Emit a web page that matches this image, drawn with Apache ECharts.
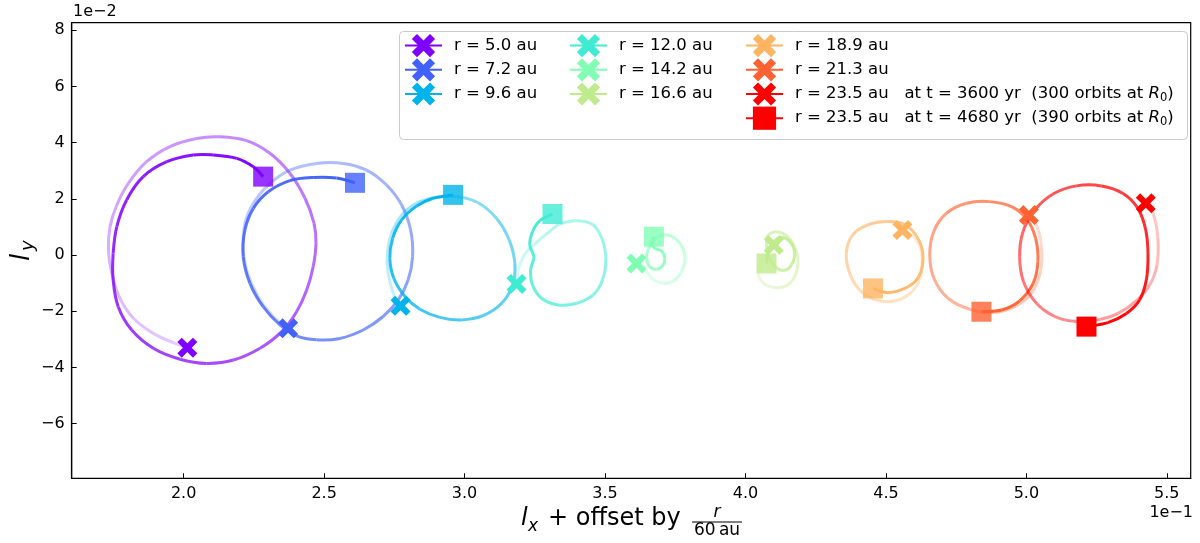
<!DOCTYPE html>
<html>
<head>
<meta charset="utf-8">
<script src="https://cdn.jsdelivr.net/npm/echarts@6/dist/echarts.min.js"></script>
<style>
  html, body { margin: 0; padding: 0; background: #fff; }
  #chart { width: 1200px; height: 543px; }
</style>
</head>
<body>
<div id="chart"></div>
<script>
// values as shown on the axes: x in units of 1e-1, y in units of 1e-2
const radii = [5.0, 7.2, 9.6, 12.0, 14.2, 16.6, 18.9, 21.3, 23.5];
const times = [3600, 4680];   // yr, first point (X) and last point (square)
const orbits = [300, 390];    // orbits at R0
const xTicks = [2.0, 2.5, 3.0, 3.5, 4.0, 4.5, 5.0, 5.5];
const yTicks = [-6, -4, -2, 0, 2, 4, 6, 8];

// trajectories, from t = 3600 yr (first point) to t = 4680 yr (last point)
const traj_5_0 = [[2.013,-3.30],[1.963,-3.12],[1.892,-2.79],[1.821,-2.25],[1.773,-1.54],[1.744,-0.65],[1.732,0.18],[1.738,1.01],[1.762,1.78],[1.803,2.55],[1.868,3.32],[1.951,3.86],[2.046,4.15],[2.129,4.21],[2.224,4.07],[2.307,3.62],[2.378,2.91],[2.432,2.02],[2.464,1.13],[2.471,0.42],[2.461,-0.42],[2.438,-1.25],[2.402,-2.02],[2.349,-2.73],[2.272,-3.32],[2.177,-3.74],[2.082,-3.86],[1.987,-3.71],[1.892,-3.32],[1.815,-2.67],[1.767,-1.84],[1.749,-0.89],[1.749,0.06],[1.762,1.01],[1.797,1.96],[1.856,2.79],[1.940,3.32],[2.034,3.56],[2.105,3.56],[2.189,3.44],[2.248,3.14],[2.283,2.79]];
const traj_7_2 = [[2.372,-2.61],[2.319,-2.19],[2.265,-1.48],[2.224,-0.53],[2.212,0.30],[2.218,1.13],[2.248,1.84],[2.301,2.49],[2.378,3.02],[2.473,3.26],[2.568,3.26],[2.651,3.02],[2.722,2.49],[2.776,1.78],[2.808,0.89],[2.815,-0.06],[2.799,-0.89],[2.764,-1.60],[2.710,-2.19],[2.639,-2.67],[2.556,-2.97],[2.473,-3.02],[2.402,-2.88],[2.343,-2.49],[2.283,-1.84],[2.236,-1.01],[2.212,-0.06],[2.218,0.89],[2.248,1.66],[2.301,2.25],[2.378,2.65],[2.461,2.76],[2.544,2.74],[2.610,2.57]];
const traj_9_6 = [[2.772,-1.81],[2.746,-1.36],[2.728,-0.65],[2.725,0.06],[2.740,0.77],[2.776,1.42],[2.829,1.84],[2.894,2.05],[2.971,2.08],[3.048,1.86],[3.114,1.30],[3.159,0.53],[3.179,-0.30],[3.171,-1.07],[3.132,-1.72],[3.066,-2.16],[2.989,-2.31],[2.912,-2.22],[2.841,-1.93],[2.788,-1.48],[2.748,-0.83],[2.734,-0.12],[2.744,0.59],[2.776,1.25],[2.829,1.74],[2.888,2.02],[2.959,2.14]];
const traj_12_0 = [[3.185,-1.03],[3.191,-0.53],[3.203,-0.18],[3.221,0.12],[3.250,0.39],[3.292,0.75],[3.339,1.10],[3.399,1.22],[3.458,1.07],[3.491,0.53],[3.503,-0.18],[3.491,-0.89],[3.458,-1.42],[3.399,-1.72],[3.333,-1.78],[3.274,-1.54],[3.242,-1.07],[3.235,-0.53],[3.247,-0.08],[3.232,0.36],[3.242,0.83],[3.268,1.22],[3.313,1.46]];
const traj_14_2 = [[3.612,-0.30],[3.642,-0.53],[3.666,-0.83],[3.707,-1.01],[3.748,-0.89],[3.778,-0.47],[3.784,0.00],[3.766,0.42],[3.731,0.69],[3.695,0.69],[3.671,0.47],[3.653,0.18],[3.648,-0.12],[3.659,-0.42],[3.683,-0.51],[3.705,-0.38],[3.713,-0.12],[3.701,0.14],[3.677,0.24],[3.666,0.42],[3.674,0.65]];
const traj_16_6 = [[4.101,0.36],[4.080,0.12],[4.057,-0.24],[4.045,-0.65],[4.063,-0.99],[4.104,-1.16],[4.146,-1.09],[4.175,-0.77],[4.187,-0.24],[4.175,0.30],[4.146,0.69],[4.111,0.83],[4.080,0.69],[4.075,0.36],[4.083,-0.06],[4.106,-0.42],[4.138,-0.55],[4.165,-0.33],[4.175,0.10],[4.156,0.50],[4.127,0.62],[4.101,0.47],[4.081,0.12],[4.075,-0.30]];
const traj_18_9 = [[4.559,0.89],[4.599,0.65],[4.627,0.06],[4.623,-0.77],[4.589,-1.34],[4.531,-1.64],[4.466,-1.60],[4.407,-1.25],[4.371,-0.65],[4.359,0.06],[4.381,0.71],[4.436,1.07],[4.507,1.19],[4.570,1.07],[4.614,0.59],[4.632,-0.04],[4.618,-0.75],[4.575,-1.15],[4.507,-1.34],[4.454,-1.19]];
const traj_21_3 = [[5.009,1.42],[5.038,1.01],[5.054,0.24],[5.050,-0.59],[5.018,-1.36],[4.958,-1.84],[4.881,-2.05],[4.798,-1.93],[4.721,-1.54],[4.671,-0.83],[4.656,0.00],[4.670,0.83],[4.715,1.48],[4.787,1.84],[4.869,1.90],[4.947,1.72],[5.002,1.27],[5.033,0.59],[5.041,-0.24],[5.024,-1.01],[4.976,-1.63],[4.911,-1.96],[4.840,-2.02]];
const traj_23_5 = [[5.425,1.84],[5.453,1.42],[5.468,0.59],[5.465,-0.36],[5.439,-1.07],[5.391,-1.63],[5.326,-2.08],[5.255,-2.31],[5.178,-2.37],[5.101,-2.19],[5.036,-1.72],[4.990,-0.95],[4.976,-0.06],[4.988,0.83],[5.030,1.60],[5.095,2.17],[5.178,2.46],[5.267,2.46],[5.344,2.19],[5.397,1.66],[5.425,0.89],[5.433,0.00],[5.427,-0.89],[5.403,-1.60],[5.356,-2.08],[5.290,-2.41],[5.214,-2.55]];

const trajectories = [traj_5_0, traj_7_2, traj_9_6, traj_12_0, traj_14_2, traj_16_6, traj_18_9, traj_21_3, traj_23_5];
// matplotlib 'rainbow' sampled at 9 steps
const colors = ['#8000ff', '#4061fa', '#00b4eb', '#40ebd4', '#80ffb4', '#bfeb8d', '#ffb462', '#ff6232', '#ff0000'];

const FONT = 'DejaVu Sans';
const xSymbol = 'path://M2.2 0L5 2.8L7.8 0L10 2.2L7.2 5L10 7.8L7.8 10L5 7.2L2.2 10L0 7.8L2.8 5L0 2.2Z';

function rgba(hex, a) {
  const n = parseInt(hex.slice(1), 16);
  return 'rgba(' + (n >> 16) + ',' + ((n >> 8) & 255) + ',' + (n & 255) + ',' + a.toFixed(3) + ')';
}

// one curve piece per point, fading in from the start
function trajSeries(pts, color) {
  const n = pts.length;
  return {
    type: 'custom',
    coordinateSystem: 'cartesian2d',
    silent: true,
    z: 2,
    data: pts,
    encode: { x: 0, y: 1 },
    renderItem: function (params, api) {
      const i = params.dataIndex;
      if (i >= n - 1) return null;
      const c = k => api.coord(pts[Math.max(0, Math.min(n - 1, k))]);
      const p0 = c(i - 1), p1 = c(i), p2 = c(i + 1), p3 = c(i + 2);
      const a = 0.2 + 0.8 * i / (n - 2);
      return {
        type: 'bezierCurve',
        shape: {
          x1: p1[0], y1: p1[1], x2: p2[0], y2: p2[1],
          cpx1: p1[0] + (p2[0] - p0[0]) / 6, cpy1: p1[1] + (p2[1] - p0[1]) / 6,
          cpx2: p2[0] - (p3[0] - p1[0]) / 6, cpy2: p2[1] - (p3[1] - p1[1]) / 6
        },
        style: { stroke: rgba(color, a), lineWidth: 3, fill: null }
      };
    }
  };
}

const names = radii.map(r => 'r = ' + r.toFixed(1) + ' au');
const last = radii.length - 1;
names[last] += '   at t = ' + times[0] + ' yr  (' + orbits[0] + ' orbits at R0)';
const endName = 'r = ' + radii[last].toFixed(1) + ' au   at t = ' + times[1] + ' yr  (' + orbits[1] + ' orbits at R0)';

const series = [];
trajectories.forEach((pts, k) => series.push(trajSeries(pts, colors[k])));
trajectories.forEach((pts, k) => {
  series.push({
    type: 'line', name: names[k], data: [pts[0]],
    symbol: xSymbol, symbolSize: 20, silent: true, z: 5,
    itemStyle: { color: colors[k] }, lineStyle: { color: colors[k], width: 2 }
  });
  series.push({
    type: k === last ? 'line' : 'scatter',
    name: k === last ? endName : names[k] + ' end',
    data: [pts[pts.length - 1]],
    symbol: 'rect', symbolSize: 20, silent: true, z: 5,
    itemStyle: { color: colors[k] }, lineStyle: { color: colors[k], width: 2 }
  });
});

const legendBase = {
  orient: 'vertical', top: 34, itemWidth: 37, itemHeight: 29, itemGap: 1,
  selectedMode: false, padding: 0,
  textStyle: {
    fontFamily: FONT, fontSize: 16.5, color: '#000', padding: [0, 0, 0, 7],
    rich: {
      it: { fontFamily: FONT, fontSize: 16.5, fontStyle: 'italic', color: '#000' },
      sub: { fontFamily: FONT, fontSize: 11.5, color: '#000', verticalAlign: 'bottom', padding: [8, 0, 0, 0] }
    }
  },
  formatter: name => name.replace('R0)', '{it|R}{sub|0})')
};

const chart = echarts.init(document.getElementById('chart'));
chart.setOption({
  animation: false,
  backgroundColor: '#fff',
  grid: {
    left: 71.7, right: 9.3, top: 22.7, bottom: 64.7,
    show: true, borderColor: '#000', borderWidth: 1.2,
    outerBoundsMode: 'none'
  },
  xAxis: {
    type: 'value', min: 1.6014, max: 5.585,
    axisLine: { show: true, onZero: false, lineStyle: { color: '#000', width: 1.2 } },
    axisTick: { show: true, inside: true, length: 5, lineStyle: { color: '#000' }, customValues: xTicks },
    axisLabel: {
      customValues: xTicks, formatter: v => v.toFixed(1), margin: 8,
      fontFamily: FONT, fontSize: 16, color: '#000'
    },
    splitLine: { show: false }
  },
  yAxis: {
    type: 'value', min: -7.95, max: 8.27,
    axisLine: { show: true, onZero: false, lineStyle: { color: '#000', width: 1.2 } },
    axisTick: { show: true, inside: true, length: 5, lineStyle: { color: '#000' }, customValues: yTicks },
    axisLabel: {
      customValues: yTicks, formatter: v => (v < 0 ? '\u2212' + (-v) : String(v)), margin: 7,
      fontFamily: FONT, fontSize: 16, color: '#000'
    },
    splitLine: { show: false }
  },
  legend: [
    Object.assign({}, legendBase, { left: 404, data: names.slice(0, 3) }),
    Object.assign({}, legendBase, { left: 569, data: names.slice(3, 6) }),
    Object.assign({}, legendBase, { left: 745, data: names.slice(6).concat([endName]) })
  ],
  graphic: [
    {
      type: 'rect', left: 399, top: 31, z: 1,
      shape: { width: 788, height: 108, r: 4 },
      style: { fill: 'rgba(255,255,255,0.8)', stroke: '#cccccc', lineWidth: 1 }
    },
    { type: 'text', x: 73, y: 12, style: { text: '1e\u22122', font: '16px "DejaVu Sans"', fill: '#000', textAlign: 'left', textVerticalAlign: 'middle' } },
    { type: 'text', x: 1193, y: 513, style: { text: '1e\u22121', font: '16px "DejaVu Sans"', fill: '#000', textAlign: 'right', textVerticalAlign: 'middle' } },
    {
      type: 'group', x: 22, y: 250, rotation: Math.PI / 2,
      children: [
        { type: 'text', x: -11, y: 0, style: { text: 'l', font: 'italic 26px "DejaVu Sans"', fill: '#000', textAlign: 'left', textVerticalAlign: 'middle' } },
        { type: 'text', x: -1, y: 6, style: { text: 'y', font: 'italic 18px "DejaVu Sans"', fill: '#000', textAlign: 'left', textVerticalAlign: 'middle' } }
      ]
    },
    { type: 'text', x: 521, y: 519, style: { text: 'l', font: 'italic 24px "DejaVu Sans"', fill: '#000', textAlign: 'left', textVerticalAlign: 'middle' } },
    { type: 'text', x: 528, y: 527, style: { text: 'x', font: 'italic 17px "DejaVu Sans"', fill: '#000', textAlign: 'left', textVerticalAlign: 'middle' } },
    { type: 'text', x: 548, y: 519, style: { text: '+ offset by', font: '24px "DejaVu Sans"', fill: '#000', textAlign: 'left', textVerticalAlign: 'middle' } },
    { type: 'text', x: 717, y: 513, style: { text: 'r', font: 'italic 17px "DejaVu Sans"', fill: '#000', textAlign: 'center', textVerticalAlign: 'middle' } },
    { type: 'line', shape: { x1: 692, y1: 522, x2: 742, y2: 522 }, style: { stroke: '#000', lineWidth: 1.2 } },
    { type: 'text', x: 717, y: 531, style: { text: '60\u2009au', font: '17px "DejaVu Sans"', fill: '#000', textAlign: 'center', textVerticalAlign: 'middle' } }
  ],
  series: series
});
</script>
</body>
</html>
